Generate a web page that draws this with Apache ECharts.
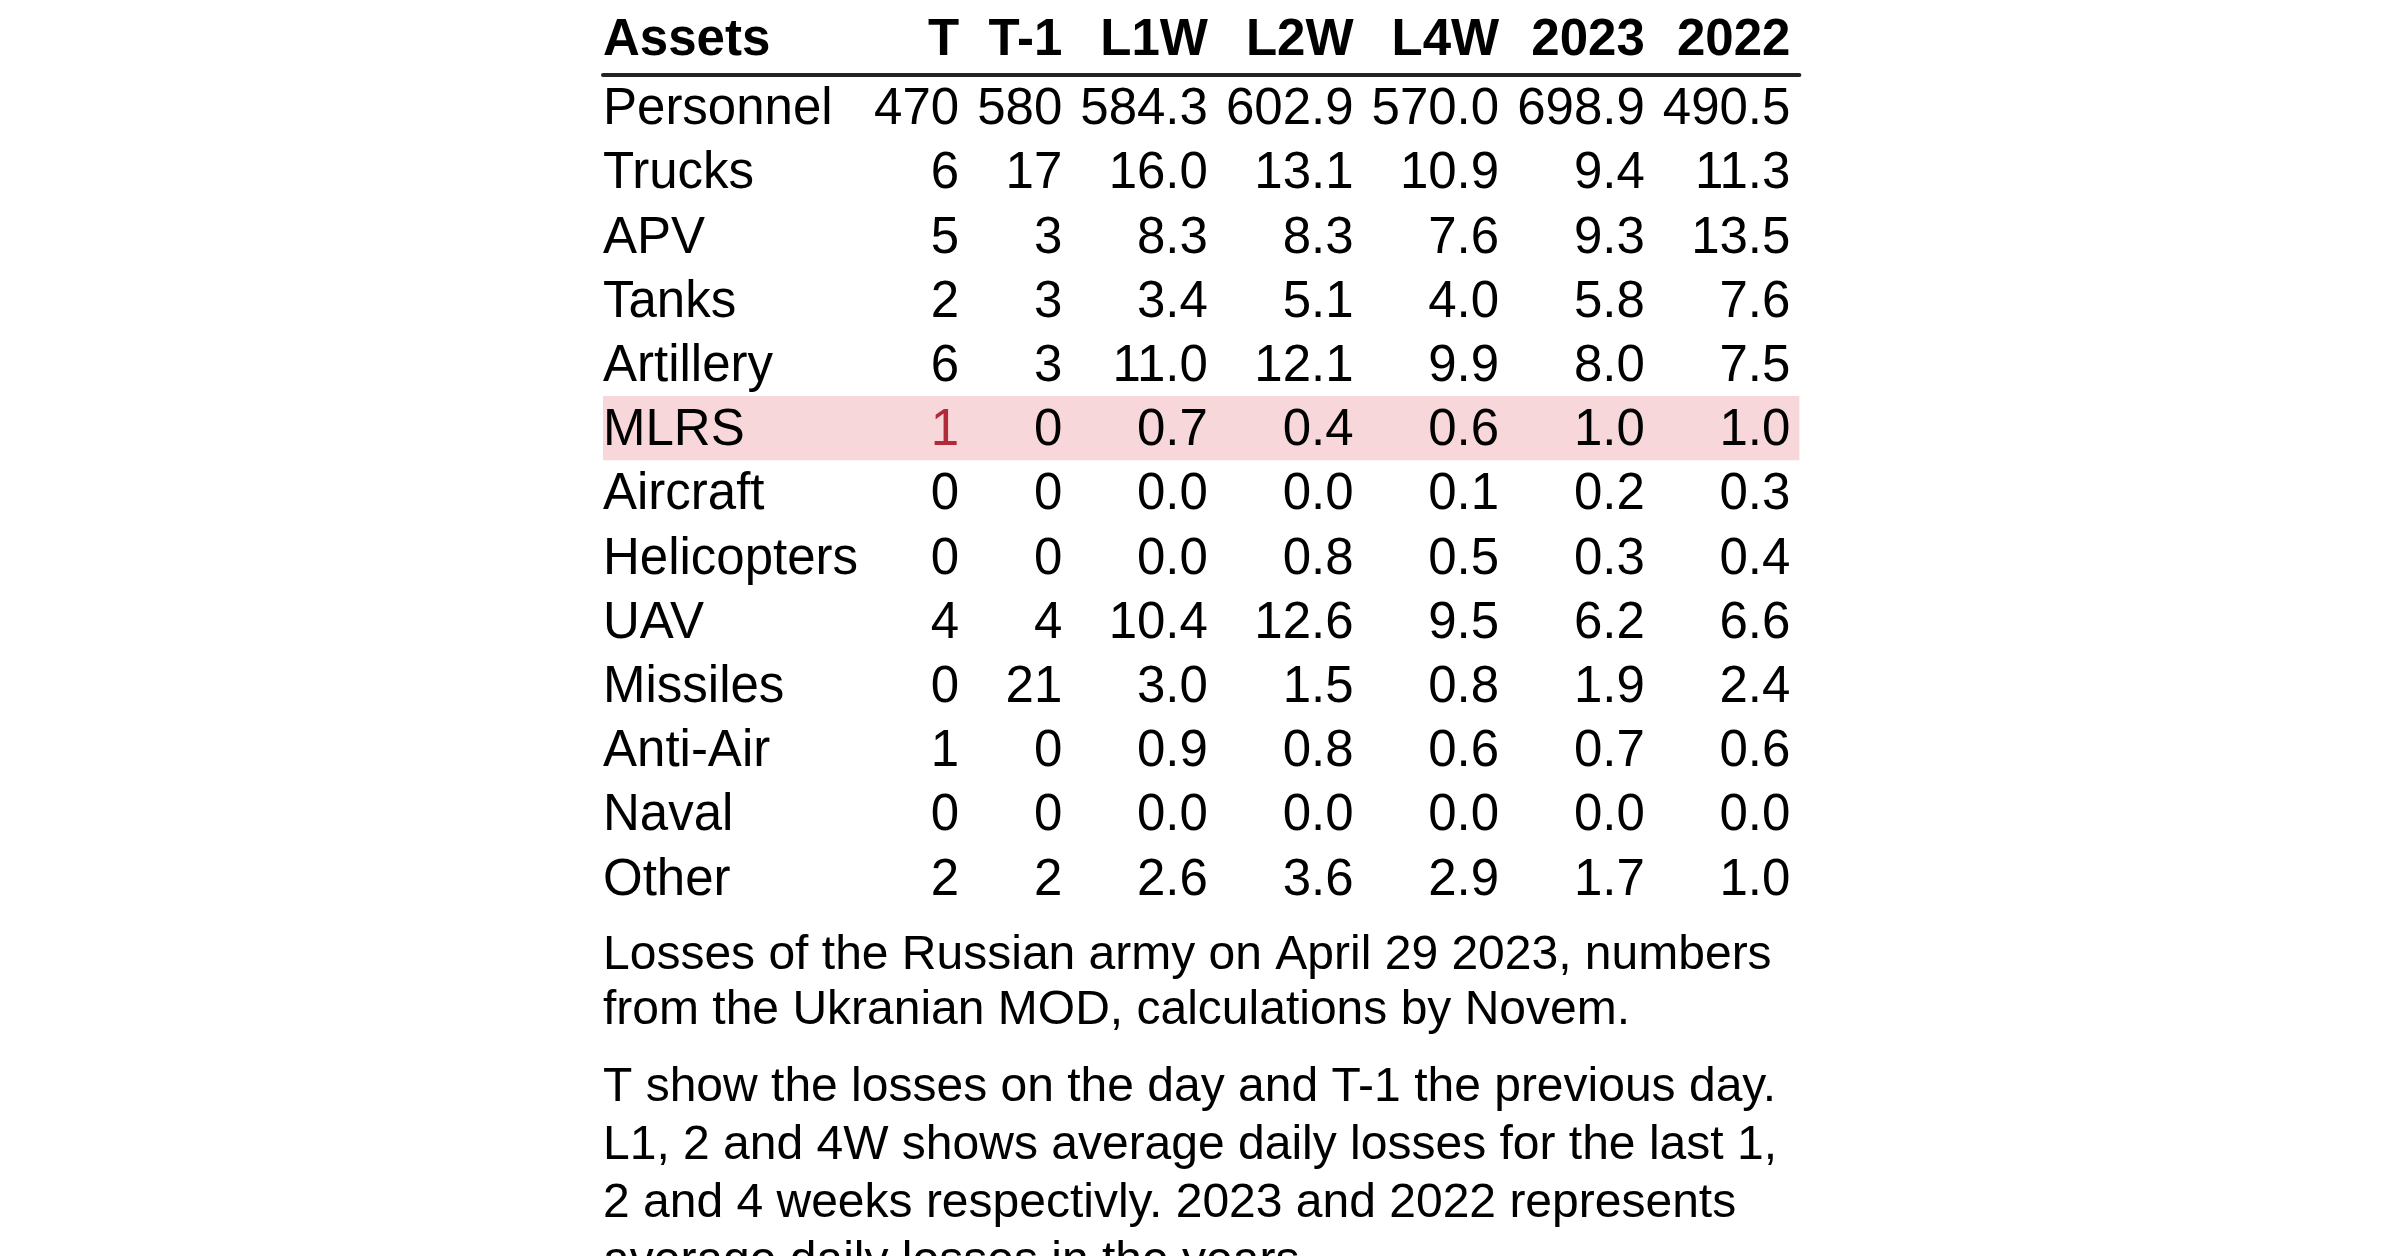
<!DOCTYPE html>
<html>
<head>
<meta charset="utf-8">
<title>Losses of the Russian army</title>
<script src="https://cdn.jsdelivr.net/npm/echarts@6/dist/echarts.min.js"></script>
<style>
    html, body { margin: 0; padding: 0; background: #fff; }
    #container { width: 2400px; height: 1256px; }
</style>
</head>
<body>
<div id="container"></div>

<script>
    // table data
    var columns = ['Assets', 'T', 'T-1', 'L1W', 'L2W', 'L4W', '2023', '2022'];
    var assets = ['Personnel', 'Trucks', 'APV', 'Tanks', 'Artillery', 'MLRS', 'Aircraft',
        'Helicopters', 'UAV', 'Missiles', 'Anti-Air', 'Naval', 'Other'];
    var valT    = [470, 6, 5, 2, 6, 1, 0, 0, 4, 0, 1, 0, 2];
    var valT1   = [580, 17, 3, 3, 3, 0, 0, 0, 4, 21, 0, 0, 2];
    var valL1W  = [584.3, 16.0, 8.3, 3.4, 11.0, 0.7, 0.0, 0.0, 10.4, 3.0, 0.9, 0.0, 2.6];
    var valL2W  = [602.9, 13.1, 8.3, 5.1, 12.1, 0.4, 0.0, 0.8, 12.6, 1.5, 0.8, 0.0, 3.6];
    var valL4W  = [570.0, 10.9, 7.6, 4.0, 9.9, 0.6, 0.1, 0.5, 9.5, 0.8, 0.6, 0.0, 2.9];
    var val2023 = [698.9, 9.4, 9.3, 5.8, 8.0, 1.0, 0.2, 0.3, 6.2, 1.9, 0.7, 0.0, 1.7];
    var val2022 = [490.5, 11.3, 13.5, 7.6, 7.5, 1.0, 0.3, 0.4, 6.6, 2.4, 0.6, 0.0, 1.0];
    var highlightAsset = 'MLRS';
    var highlightColumn = 'T';

    var note1 = 'Losses of the Russian army on April 29 2023, numbers from the Ukranian MOD, calculations by Novem.';
    var note2 = 'T show the losses on the day and T-1 the previous day. L1, 2 and 4W shows average daily losses for the last 1, 2 and 4 weeks respectivly. 2023 and 2022 represents average daily losses in the years.';

    var valueCols = [valT, valT1, valL1W, valL2W, valL4W, val2023, val2022];

    // look
    var FONT = '"Liberation Sans", Arial, Helvetica, sans-serif';
    var bodySize = 51, headSize = 51, noteSize = 48;
    var cellPad = 9, firstPad = 7;
    var tableLeft = 603, headH = 74, bodyTop = 75, rowH = 64.2;
    var bodyDy = 3, headDy = 4;   // nudge glyphs onto the cap-height centre

    function fmt(c, v) {
        // T and T-1 are whole numbers, the averages get one decimal
        return c <= 2 ? String(v) : v.toFixed(1);
    }
    function cellText(c, r) {
        return c === 0 ? assets[r] : fmt(c, valueCols[c - 1][r]);
    }

    // column widths from the text they hold, like an html table would
    var ctx = document.createElement('canvas').getContext('2d');
    function textW(s, bold, size) {
        ctx.font = (bold ? 'bold ' : '') + size + 'px ' + FONT;
        return ctx.measureText(s).width;
    }
    var colRight = [];
    var acc = 0;
    columns.forEach(function (name, c) {
        var w = textW(name, true, headSize);
        for (var r = 0; r < assets.length; r++) {
            w = Math.max(w, textW(cellText(c, r), false, bodySize));
        }
        acc += w + (c === 0 ? firstPad : 2 * cellPad);
        colRight.push(acc);
    });
    var tableW = acc;

    function anchorX(c) {
        return c === 0 ? 0 : colRight[c] - cellPad;
    }

    var headData = columns.map(function (n, c) { return [c, 0]; });
    var cellData = [];
    for (var c = 0; c < columns.length; c++) {
        for (var r = 0; r < assets.length; r++) {
            cellData.push([c, r]);
        }
    }
    var hlRow = assets.indexOf(highlightAsset);
    var hlCol = columns.indexOf(highlightColumn);

    var dom = document.getElementById('container');
    var myChart = echarts.init(dom);
    var option = {
        backgroundColor: '#fff',
        animation: false,
        title: [
            {
                text: note1, left: tableLeft, top: 928, padding: 0,
                textStyle: { fontFamily: FONT, fontSize: noteSize, fontWeight: 'normal', color: '#000',
                    lineHeight: 55, width: 1195, overflow: 'break' }
            },
            {
                text: note2, left: tableLeft, top: 1059, padding: 0,
                textStyle: { fontFamily: FONT, fontSize: noteSize, fontWeight: 'normal', color: '#000',
                    lineHeight: 58, width: 1195, overflow: 'break' }
            }
        ],
        grid: [
            { left: tableLeft, top: 0, width: tableW, height: headH },
            { left: tableLeft, top: bodyTop, width: tableW, height: rowH * assets.length }
        ],
        xAxis: [
            { gridIndex: 0, type: 'value', min: 0, max: tableW, show: false },
            {
                gridIndex: 1, type: 'value', min: 0, max: tableW, position: 'top',
                axisLine: { show: true, lineStyle: { color: '#222', width: 4 } },
                axisTick: { show: false }, axisLabel: { show: false }, splitLine: { show: false }
            }
        ],
        yAxis: [
            { gridIndex: 0, type: 'category', data: ['head'], show: false },
            { gridIndex: 1, type: 'category', data: assets, inverse: true, show: false }
        ],
        series: [
            {
                // pink band behind the highlighted row
                type: 'custom', xAxisIndex: 1, yAxisIndex: 1, z: 1, silent: true,
                data: [[0, hlRow]],
                renderItem: function (params, api) {
                    var r = api.value(1);
                    var p0 = api.coord([0, r]);
                    var p1 = api.coord([tableW, r]);
                    var h = api.size([0, 1])[1];
                    return {
                        type: 'rect',
                        shape: { x: p0[0], y: p0[1] - h / 2, width: p1[0] - p0[0], height: h },
                        style: { fill: '#f8d7da' }
                    };
                }
            },
            {
                type: 'custom', xAxisIndex: 0, yAxisIndex: 0, z: 3, silent: true,
                data: headData,
                renderItem: function (params, api) {
                    var c = api.value(0);
                    var p = api.coord([anchorX(c), 0]);
                    var al = c === 0 ? 'left' : 'right';
                    return {
                        type: 'text', x: p[0], y: p[1] + headDy,
                        style: {
                            text: columns[c], fill: '#000',
                            fontFamily: FONT, fontSize: headSize, fontWeight: 'bold',
                            align: al, textAlign: al, verticalAlign: 'middle', textVerticalAlign: 'middle'
                        }
                    };
                }
            },
            {
                type: 'custom', xAxisIndex: 1, yAxisIndex: 1, z: 3, silent: true,
                data: cellData,
                renderItem: function (params, api) {
                    var c = api.value(0), r = api.value(1);
                    var p = api.coord([anchorX(c), r]);
                    var al = c === 0 ? 'left' : 'right';
                    var red = (c === hlCol && r === hlRow);
                    return {
                        type: 'text', x: p[0], y: p[1] + bodyDy,
                        style: {
                            text: cellText(c, r), fill: red ? '#b02a37' : '#000',
                            fontFamily: FONT, fontSize: bodySize, fontWeight: 'normal',
                            align: al, textAlign: al, verticalAlign: 'middle', textVerticalAlign: 'middle'
                        }
                    };
                }
            }
        ]
    };

    if (option && typeof option === 'object') {
        myChart.setOption(option);
    }
</script>
</body>
</html>
